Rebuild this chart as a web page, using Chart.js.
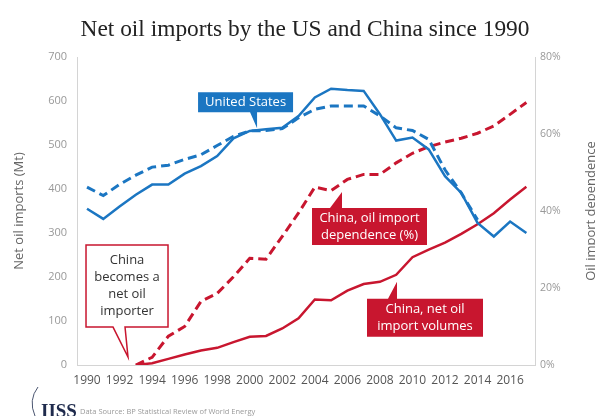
<!DOCTYPE html>
<html>
<head>
<meta charset="utf-8">
<script src="https://cdn.jsdelivr.net/npm/chart.js@4.4.0/dist/chart.umd.min.js"></script>
<style>
html, body { margin: 0; padding: 0; background: #fff; }
</style>
</head>
<body>
<canvas id="myChart" width="595" height="416"></canvas>
<script>
// data
var years = [1990, 1991, 1992, 1993, 1994, 1995, 1996, 1997, 1998, 1999, 2000, 2001, 2002, 2003,
    2004, 2005, 2006, 2007, 2008, 2009, 2010, 2011, 2012, 2013, 2014, 2015, 2016, 2017];
// Mt
var usImports = [355, 332, 360, 387, 410, 410, 435, 452, 475, 515, 532, 536, 539, 566,
    608, 628, 625, 623, 570, 510, 517, 490, 429, 391, 323, 292, 326, 300];
var chinaImports = [null, null, null, 0, 4, 14, 24, 33, 39, 52, 64, 66, 83, 106,
    149, 147, 169, 184, 189, 205, 245, 262, 278, 298, 320, 345, 376, 405];
// %
var usDependence = [46.2, 44.0, 46.9, 49.3, 51.4, 51.9, 53.4, 54.6, 57.0, 59.4, 60.8, 60.9, 61.4, 64.2,
    66.4, 67.3, 67.3, 67.3, 64.7, 61.6, 60.9, 58.6, 50.7, 44.7, 37.7, null, null, null];
var chinaDependence = [null, null, null, 0, 2, 7.5, 10, 16.5, 18.6, 22.9, 27.7, 27.5, 33.4, 39.5,
    46.2, 45.3, 48.2, 49.5, 49.5, 52.5, 55.0, 56.7, 57.9, 58.9, 60.2, 62.1, 65.1, 68.2];

var xTicks = [1990, 1992, 1994, 1996, 1998, 2000, 2002, 2004, 2006, 2008, 2010, 2012, 2014, 2016];

var blue = '#1b76c2';
var red = '#c8162f';
var font = 'Open Sans';

function pts(ys) {
    return years.map(function (yr, i) { return { x: yr, y: ys[i] }; });
}

// callouts: tip sits at a data point (year, Mt), box placed around it in px
var notes = [
    { lines: ['United States'], tip: [2000.45, 538], box: [-59, -36, 95, 20], base: [-7, 0], fill: blue, text: '#fff' },
    { lines: ['China, oil import', 'dependence (%)'], tip: [2005.67, 393], box: [-30, 16, 115, 37], base: [-12, 0], fill: red, text: '#fff' },
    { lines: ['China, net oil', 'import volumes'], tip: [2009.05, 189], box: [-30, 17, 116, 38], base: [-9, 0], fill: red, text: '#fff' },
    { lines: ['China', 'becomes a', 'net oil', 'importer'], tip: [1992.52, 18], box: [-42, -112, 82, 82], base: [-15, -3], fill: '#fff', stroke: red, text: '#333' }
];

var extras = {
    id: 'extras',
    afterDraw: function (chart) {
        var ctx = chart.ctx;
        var xs = chart.scales.x, ys = chart.scales.y;
        ctx.save();

        // title
        ctx.fillStyle = '#222';
        ctx.textAlign = 'center';
        ctx.textBaseline = 'alphabetic';
        var title = 'Net oil imports by the US and China since 1990';
        ctx.font = '22px "Liberation Serif"';
        var w = ctx.measureText(title).width;
        var size = 22 * 449 / w;
        ctx.font = size.toFixed(1) + 'px "Liberation Serif"';
        ctx.fillText(title, 305, 36);

        // right axis title, reads bottom to top like the left one
        ctx.save();
        ctx.translate(591, 211);
        ctx.rotate(-Math.PI / 2);
        ctx.font = '13px "' + font + '"';
        ctx.fillStyle = '#666';
        ctx.textBaseline = 'middle';
        ctx.fillText('Oil import dependence', 0, 0);
        ctx.restore();

        // callouts
        notes.forEach(function (n) {
            var tx = xs.getPixelForValue(n.tip[0]);
            var ty = ys.getPixelForValue(n.tip[1]);
            var bx = tx + n.box[0], by = ty + n.box[1], bw = n.box[2], bh = n.box[3];
            var b0 = tx + n.base[0], b1 = tx + n.base[1];
            ctx.beginPath();
            if (by > ty) {
                // box below the tip, pointer on the top edge
                ctx.moveTo(bx, by);
                ctx.lineTo(b0, by);
                ctx.lineTo(tx, ty);
                ctx.lineTo(b1, by);
                ctx.lineTo(bx + bw, by);
                ctx.lineTo(bx + bw, by + bh);
                ctx.lineTo(bx, by + bh);
            } else {
                ctx.moveTo(bx, by);
                ctx.lineTo(bx + bw, by);
                ctx.lineTo(bx + bw, by + bh);
                ctx.lineTo(b1, by + bh);
                ctx.lineTo(tx, ty);
                ctx.lineTo(b0, by + bh);
                ctx.lineTo(bx, by + bh);
            }
            ctx.closePath();
            ctx.fillStyle = n.fill;
            ctx.fill();
            if (n.stroke) {
                ctx.strokeStyle = n.stroke;
                ctx.lineWidth = 1.5;
                ctx.stroke();
            }
            ctx.fillStyle = n.text;
            ctx.font = '13px "' + font + '"';
            ctx.textAlign = 'center';
            ctx.textBaseline = 'middle';
            var lh = 17;
            var cy = by + bh / 2 - (n.lines.length - 1) * lh / 2;
            n.lines.forEach(function (t, i) {
                ctx.fillText(t, bx + bw / 2, cy + i * lh);
            });
        });

        // footer
        ctx.strokeStyle = '#4a5570';
        ctx.lineWidth = 1;
        ctx.beginPath();
        ctx.moveTo(38, 387);
        ctx.quadraticCurveTo(28, 400, 35, 416);
        ctx.stroke();
        ctx.fillStyle = '#1f2b4d';
        ctx.font = 'bold 19px "Liberation Serif"';
        ctx.textAlign = 'left';
        ctx.textBaseline = 'alphabetic';
        ctx.fillText('IISS', 41, 417);
        ctx.fillStyle = '#9a9a9a';
        ctx.font = '7.5px "' + font + '"';
        ctx.fillText('Data Source: BP Statistical Review of World Energy', 80, 414);

        ctx.restore();
    }
};

new Chart(document.getElementById('myChart'), {
    type: 'line',
    data: {
        datasets: [
            { data: pts(usImports), yAxisID: 'y', borderColor: blue, borderWidth: 2.5 },
            { data: pts(usDependence), yAxisID: 'y1', borderColor: blue, borderWidth: 3, borderDash: [9, 5] },
            { data: pts(chinaDependence), yAxisID: 'y1', borderColor: red, borderWidth: 3, borderDash: [9, 5] },
            { data: pts(chinaImports), yAxisID: 'y', borderColor: red, borderWidth: 2.5 }
        ]
    },
    options: {
        responsive: false,
        animation: false,
        layout: { padding: { top: 57, left: 0, right: 0, bottom: 0 } },
        elements: {
            point: { radius: 0 },
            line: { tension: 0, fill: false, borderCapStyle: 'butt' }
        },
        plugins: { legend: { display: false }, tooltip: { enabled: false } },
        scales: {
            x: {
                type: 'linear',
                min: 1989.385,
                max: 2017.53,
                afterBuildTicks: function (s) { s.ticks = xTicks.map(function (v) { return { value: v }; }); },
                afterFit: function (s) { s.height = 51; },
                ticks: {
                    callback: function (v) { return String(v); },
                    color: '#555', font: { family: font, size: 12 }, padding: 8,
                    maxRotation: 0, autoSkip: false
                },
                grid: { display: false, drawTicks: false },
                border: { color: '#d4d4d4' }
            },
            y: {
                position: 'left',
                min: 0, max: 700,
                afterFit: function (s) { s.width = 77; },
                ticks: { stepSize: 100, color: '#999', font: { family: font, size: 11 }, padding: 10 },
                grid: { display: false, drawTicks: false },
                border: { color: '#d4d4d4' },
                title: { display: true, text: 'Net oil imports (Mt)', color: '#666', font: { family: font, size: 13 }, padding: { top: 11, bottom: 0 } }
            },
            y1: {
                position: 'right',
                min: 0, max: 80,
                afterFit: function (s) { s.width = 60; },
                ticks: {
                    stepSize: 20, color: '#999', font: { family: font, size: 10.5 }, padding: 5,
                    callback: function (v) { return v + '%'; }
                },
                grid: { display: false, drawTicks: false },
                border: { color: '#d4d4d4' }
            }
        }
    },
    plugins: [extras]
});
</script>
</body>
</html>
